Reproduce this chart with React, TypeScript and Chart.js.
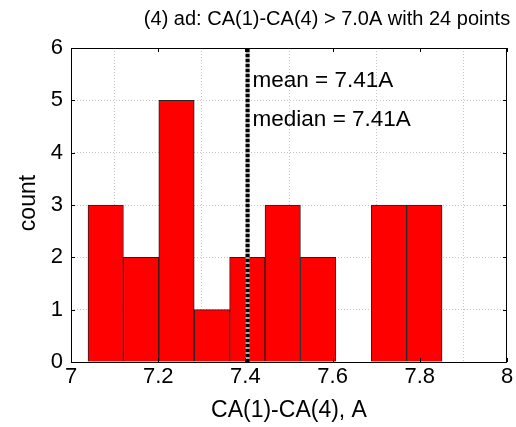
import React, { useEffect, useRef } from "react";
import { Chart, registerables } from "chart.js";

Chart.register(...registerables);

const binCenters = [7.0796, 7.1608, 7.242, 7.3232, 7.4044, 7.4856, 7.5668, 7.648, 7.7292, 7.8104];
const counts = [3, 2, 5, 1, 2, 3, 2, 0, 3, 3];
const meanValue = 7.405;
const meanLabel = "mean = 7.41A";
const medianLabel = "median = 7.41A";
const titleText = "(4) ad: CA(1)-CA(4) > 7.0A with 24 points";
const xLabel = "CA(1)-CA(4), A";
const yLabel = "count";

const FONT = "Arial, 'Liberation Sans', sans-serif";

const overlay = {
  id: "overlay",
  afterDatasetsDraw(chart: any) {
    const { ctx, chartArea } = chart;
    const xs = chart.scales.x;
    const ys = chart.scales.y;
    ctx.save();
    // box
    ctx.strokeStyle = "#000";
    ctx.lineWidth = 1;
    ctx.strokeRect(chartArea.left + 0.5, chartArea.top + 0.5, chartArea.right - chartArea.left - 1, chartArea.bottom - chartArea.top);
    // inward ticks
    ctx.beginPath();
    for (let v = 7; v <= 8.001; v += 0.2) {
      const px = Math.round(xs.getPixelForValue(v)) + 0.5;
      ctx.moveTo(px, chartArea.bottom);
      ctx.lineTo(px, chartArea.bottom - 4);
      ctx.moveTo(px, chartArea.top);
      ctx.lineTo(px, chartArea.top + 4);
    }
    for (let v = 0; v <= 6; v += 1) {
      const py = Math.round(ys.getPixelForValue(v)) + 0.5;
      ctx.moveTo(chartArea.left, py);
      ctx.lineTo(chartArea.left + 4, py);
      ctx.moveTo(chartArea.right, py);
      ctx.lineTo(chartArea.right - 4, py);
    }
    ctx.stroke();
    // annotations
    const tx = xs.getPixelForValue(meanValue) + 5;
    ctx.fillStyle = "#000";
    ctx.font = `22.5px ${FONT}`;
    ctx.textBaseline = "middle";
    ctx.textAlign = "left";
    ctx.fillText(meanLabel, tx, ys.getPixelForValue(5.38));
    ctx.fillText(medianLabel, tx, ys.getPixelForValue(4.62));
    // title
    ctx.font = `20px ${FONT}`;
    ctx.textAlign = "center";
    ctx.fillText(titleText, 327, 19);
    // axis labels
    ctx.font = `23px ${FONT}`;
    ctx.fillText(xLabel, (chartArea.left + chartArea.right) / 2, 411);
    ctx.translate(29, 203);
    ctx.rotate(-Math.PI / 2);
    ctx.fillText(yLabel, 0, 0);
    ctx.restore();
  },
};

export default function App() {
  const ref = useRef<HTMLCanvasElement>(null);
  useEffect(() => {
    document.body.style.margin = "0";
    const chart = new Chart(ref.current!, {
      type: "bar",
      data: {
        datasets: [
          {
            type: "line",
            data: [
              { x: meanValue, y: 0 },
              { x: meanValue, y: 6 },
            ],
            borderColor: "#000",
            borderWidth: 4,
            borderDash: [3, 2],
            pointRadius: 0,
            order: 0,
          } as any,
          {
            type: "line",
            data: [
              { x: meanValue, y: 0 },
              { x: meanValue, y: 6 },
            ],
            borderColor: "#aaa",
            borderWidth: 4,
            pointRadius: 0,
            order: 0,
          } as any,
          {
            type: "bar",
            data: binCenters.map((c, i) => ({ x: c, y: counts[i] })),
            backgroundColor: "#ff0000",
            borderColor: "#222",
            borderWidth: 1,
            barPercentage: 1,
            categoryPercentage: 1,
            order: 1,
          } as any,
        ],
      },
      options: {
        animation: false,
        responsive: false,
        maintainAspectRatio: false,
        layout: { padding: { left: 0, right: 9, top: 48, bottom: 0 } },
        plugins: { legend: { display: false }, tooltip: { enabled: false }, title: { display: false } },
        scales: {
          x: {
            type: "linear",
            min: 7,
            max: 8,
            offset: false,
            ticks: {
              stepSize: 0.2,
              color: "#000",
              font: { size: 22, family: FONT },
              padding: 2,
              maxRotation: 0,
              callback: (v: any) => String(Math.round(Number(v) * 10) / 10),
            },
            grid: { color: "#c4c4c4", drawTicks: false },
            border: { display: false, dash: [1, 2] },
            afterFit: (a: any) => {
              a.height = 65;
            },
          },
          y: {
            min: 0,
            max: 6,
            ticks: { stepSize: 1, color: "#000", font: { size: 22, family: FONT }, padding: 8 },
            grid: { color: "#c4c4c4", drawTicks: false },
            border: { display: false, dash: [1, 2] },
            afterFit: (a: any) => {
              a.width = 71;
            },
          },
        },
      } as any,
      plugins: [overlay],
    });
    return () => chart.destroy();
  }, []);
  return (
    <div style={{ width: 516, height: 427, background: "#fff" }}>
      <canvas ref={ref} width={516} height={427} />
    </div>
  );
}
